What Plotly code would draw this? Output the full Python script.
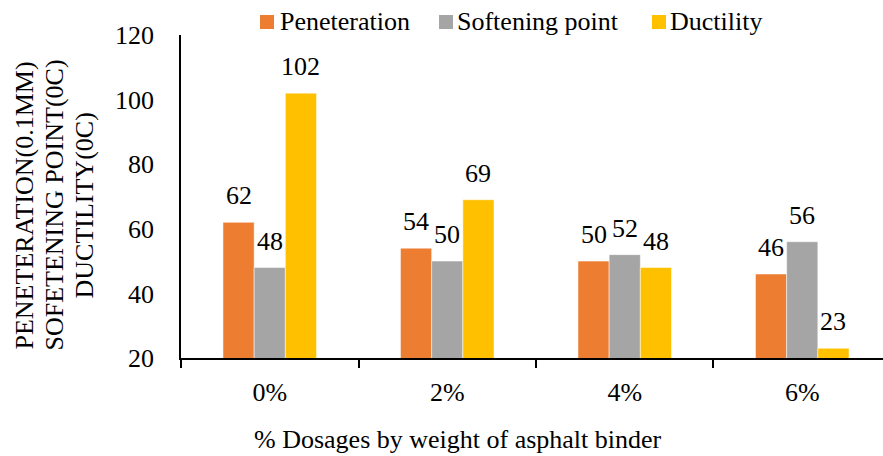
import plotly.graph_objects as go

# Binder test results for each rubber dosage
dosages = ["0%", "2%", "4%", "6%"]
penetration = [62, 54, 50, 46]
softening_point = [48, 50, 52, 56]
ductility = [102, 69, 48, 23]

series_names = ["Peneteration", "Softening point", "Ductility"]
series_values = [penetration, softening_point, ductility]
series_colors = ["#ED7D31", "#A5A5A5", "#FFC000"]

y_ticks = [20, 40, 60, 80, 100, 120]
y_title_lines = ["PENETERATION(0.1MM)", "SOFETENING POINT(0C)", "DUCTILITY(0C)"]

FONT = "Liberation Serif"
FS = 26
W, H = 883, 456
M_L, M_R, M_T, M_B = 181, 0, 35, 98
PLOT_W = W - M_L - M_R
PLOT_H = H - M_T - M_B
BAR_PX = 31.2  # on-screen width of one bar, used to centre value labels


def px_x(px):
    """Pixel column -> paper x."""
    return (px - M_L) / PLOT_W


def px_y(py):
    """Pixel row (from top) -> paper y."""
    return (H - M_B - py) / PLOT_H


fig = go.Figure()
for name, vals, color in zip(series_names, series_values, series_colors):
    fig.add_trace(go.Bar(
        x=dosages, y=vals, name=name,
        marker=dict(color=color, line=dict(color="white", width=0.5)),
        base=0,
    ))

annotations = []
shapes = []

# value labels above each bar
for i, vals in enumerate(series_values):
    for cat, v in zip(dosages, vals):
        annotations.append(dict(
            x=cat, y=v, xref="x", yref="y", text=str(v), showarrow=False,
            xshift=(i - 1) * BAR_PX, yshift=10, yanchor="bottom",
            font=dict(family=FONT, size=FS, color="black"),
        ))

# legend row across the top: colour swatch followed by series name
legend_swatch_px = [260, 439, 652]
legend_text_px = [278, 455, 668]
for name, color, sx, tx in zip(series_names, series_colors,
                               legend_swatch_px, legend_text_px):
    shapes.append(dict(
        type="rect", xref="paper", yref="paper",
        x0=px_x(sx), x1=px_x(sx + 14), y0=px_y(29), y1=px_y(15),
        fillcolor=color, line=dict(width=0),
    ))
    annotations.append(dict(
        x=px_x(tx), y=px_y(21.3), xref="paper", yref="paper",
        text=name, showarrow=False, xanchor="left", yanchor="middle",
        font=dict(family=FONT, size=FS, color="black"),
    ))

# x-axis title
annotations.append(dict(
    x=px_x(457.5), y=px_y(456), xref="paper", yref="paper", showarrow=False,
    text="% Dosages by weight of asphalt binder",
    xanchor="center", yanchor="bottom",
    font=dict(family=FONT, size=FS, color="black"),
))

# y-axis title, one rotated line per quantity
for line, cx in zip(y_title_lines, [24, 54, 84]):
    annotations.append(dict(
        x=px_x(cx), y=px_y(205.5), xref="paper", yref="paper",
        showarrow=False, text=line, textangle=-90,
        xanchor="center", yanchor="middle",
        font=dict(family=FONT, size=FS, color="black"),
    ))

fig.update_layout(
    width=W, height=H,
    margin=dict(l=M_L, r=M_R, t=M_T, b=M_B, autoexpand=False),
    paper_bgcolor="white", plot_bgcolor="white",
    barmode="group", bargap=0.473, bargroupgap=0,
    font=dict(family=FONT, size=FS, color="black"),
    showlegend=False,
    annotations=annotations,
    shapes=shapes,
    xaxis=dict(
        type="category", range=[-0.5, 3.455],
        showline=True, linecolor="black", linewidth=1.5,
        ticks="outside", tickson="boundaries", ticklen=8,
        tickcolor="black", tickwidth=1.5,
        ticklabelstandoff=10,
        showgrid=False, zeroline=False,
        tickfont=dict(family=FONT, size=FS, color="black"),
    ),
    yaxis=dict(
        range=[20, 120], tickvals=y_ticks,
        showline=True, linecolor="black", linewidth=1.5,
        ticks="", ticklabelstandoff=20,
        showgrid=False, zeroline=False,
        tickfont=dict(family=FONT, size=FS, color="black"),
    ),
)

fig.write_html("out.html")
